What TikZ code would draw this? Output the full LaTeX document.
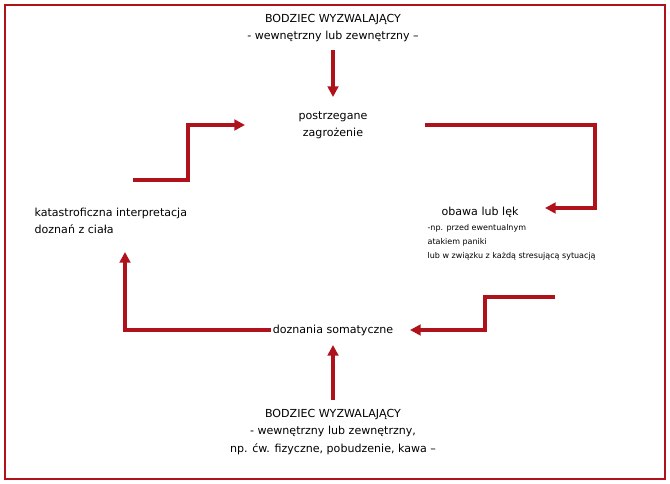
\documentclass[tikz,border=0pt]{standalone}
\usepackage{fontspec}
\setmainfont{DejaVu Sans}
\usetikzlibrary{arrows.meta}
\definecolor{darkred}{HTML}{B0121B}

\begin{document}
\begin{tikzpicture}[
    x=0.75pt, y=-0.75pt,
    label/.style={font=\fontsize{8.3}{13}\selectfont, align=center, inner sep=1pt},
    note/.style={font=\fontsize{6}{10.5}\selectfont, align=left, inner sep=1pt, anchor=north west},
    arrow/.style={-{Triangle[length=8pt,width=8pt]}, line width=2.6pt, darkred}
]
\useasboundingbox (0,0) rectangle (670,484);
\draw[darkred, line width=1.8pt] (5,5) rectangle (665,479);

% Nodes
\node[label] (top) at (333,28) {BODZIEC WYZWALAJĄCY\\- wewnętrzny lub zewnętrzny –};
\node[label] (threat) at (333,125) {postrzegane\\zagrożenie};
\node[label, anchor=west] (fear) at (440,212) {obawa lub lęk};
\node[note] (fearnote) at (426,223) {-np. przed ewentualnym\\atakiem paniki\\lub w związku z każdą stresującą sytuacją};
\node[label] (soma) at (333,330) {doznania somatyczne};
\node[label, align=left, anchor=west] (interp) at (33,221) {katastroficzna interpretacja\\doznań z ciała};
\node[label] (bottom) at (333,432) {BODZIEC WYZWALAJĄCY\\- wewnętrzny lub zewnętrzny,\\np. ćw. fizyczne, pobudzenie, kawa –};

% Arrow ends
\coordinate (topend) at (333,50);
\coordinate (threatin) at (245,125);
\coordinate (a1) at (425,125);
\coordinate (fearin) at (545,208);
\coordinate (a2) at (555,297);
\coordinate (somain) at (410,330);
\coordinate (interpin) at (125,252);
\coordinate (a3) at (133,180);
\coordinate (botend) at (333,400);
\coordinate (somabot) at (333,345);

% Arrows
\draw[arrow] (topend) -- (333,97);
\draw[arrow] (a1) -- (595,125) |- (fearin);
\draw[arrow] (a2) -- (485,297) |- (somain);
\draw[arrow] (soma.west) -| (interpin);
\draw[arrow] (a3) -- (188,180) |- (threatin);
\draw[arrow] (botend) -- (somabot);

\end{tikzpicture}
\end{document}
